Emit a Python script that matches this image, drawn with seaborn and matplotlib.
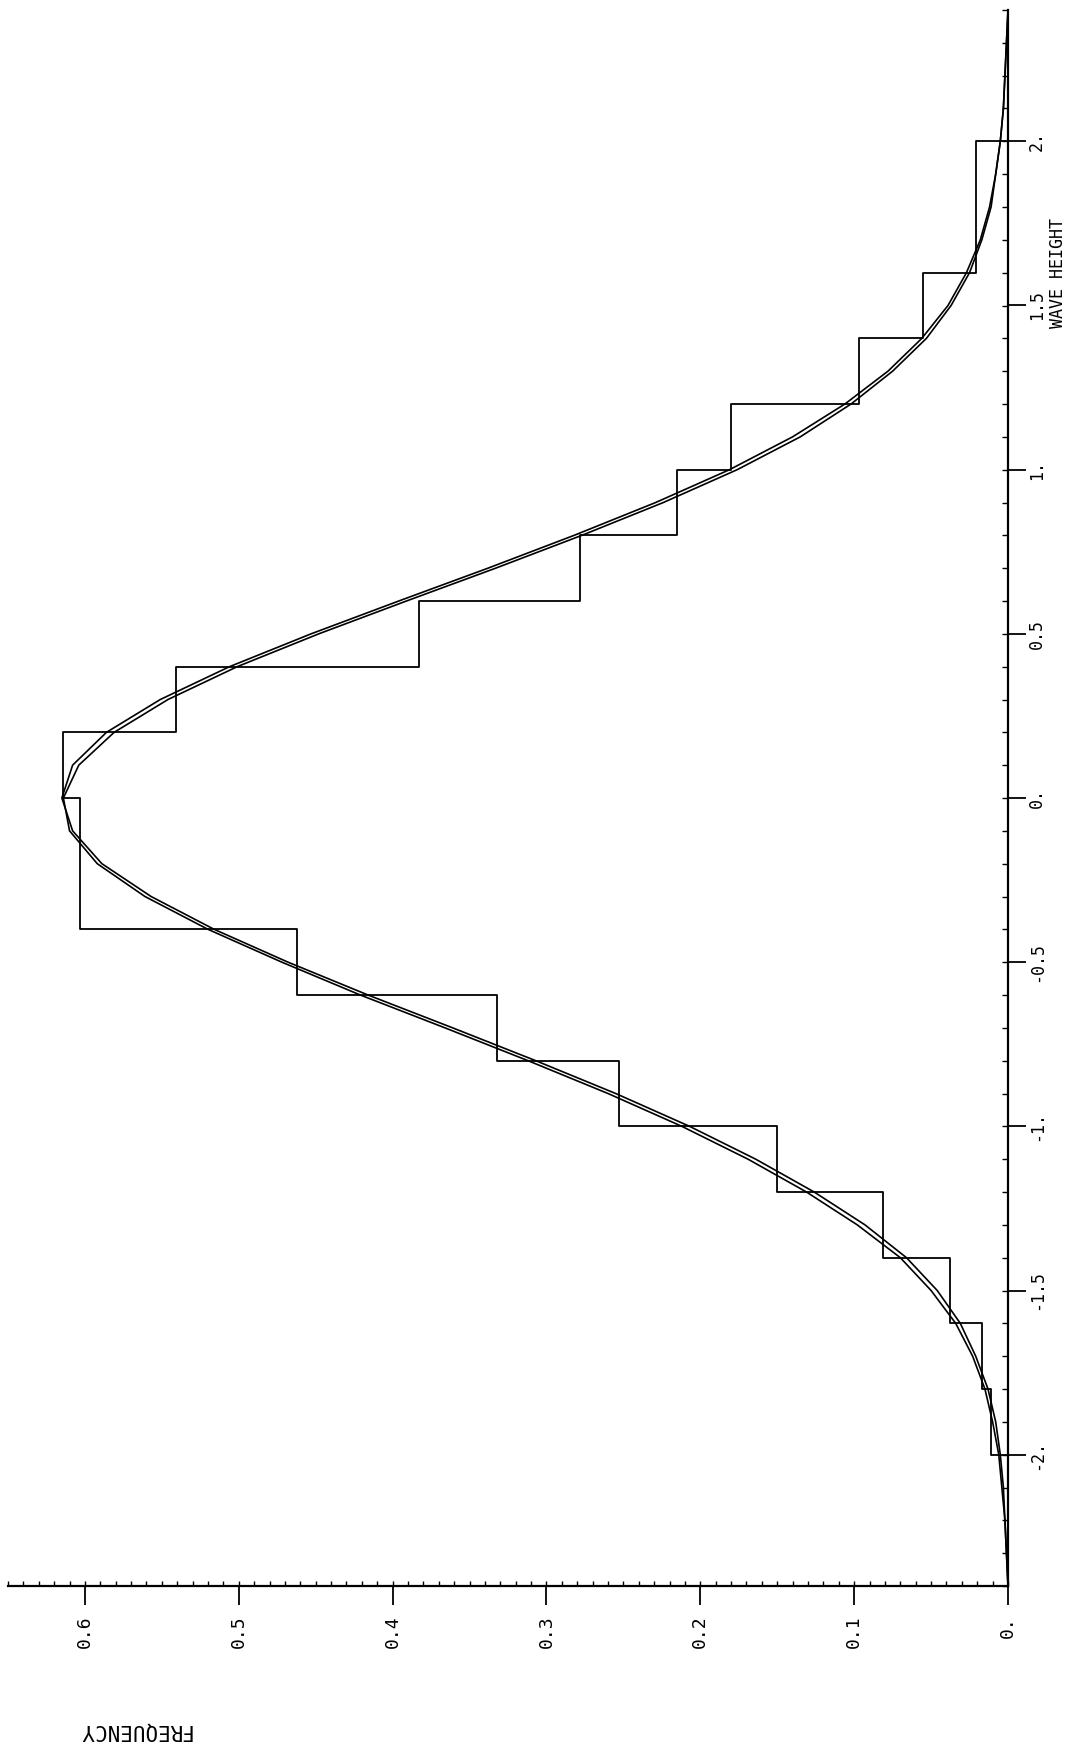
import numpy as np
import matplotlib
matplotlib.use("Agg")
import matplotlib.pyplot as plt
from matplotlib.ticker import MultipleLocator
import seaborn as sns

# ---------------- data ----------------
bin_edges = [-2.0, -1.8, -1.6, -1.4, -1.2, -1.0, -0.8, -0.6, -0.4, -0.2, 0.0,
             0.2, 0.4, 0.6, 0.8, 1.0, 1.2, 1.4, 1.6, 1.8, 2.0]
bin_freq = [0.011, 0.017, 0.038, 0.081, 0.150, 0.253, 0.332, 0.462, 0.603, 0.603,
            0.614, 0.541, 0.383, 0.278, 0.215, 0.180, 0.097, 0.055, 0.021, 0.021]

curve_h = [-2.4, -2.3, -2.2, -2.1, -2.0, -1.9, -1.8, -1.7, -1.6, -1.5, -1.4, -1.3,
           -1.2, -1.1, -1.0, -0.9, -0.8, -0.7, -0.6, -0.5, -0.4, -0.3, -0.2, -0.1,
           0.0, 0.1, 0.2, 0.3, 0.4, 0.5, 0.6, 0.7, 0.8, 0.9, 1.0, 1.1, 1.2, 1.3,
           1.4, 1.5, 1.6, 1.7, 1.8, 1.9, 2.0, 2.1, 2.2, 2.3, 2.4]
curve_a = [0.000, 0.001, 0.002, 0.003, 0.005, 0.008, 0.013, 0.021, 0.031, 0.046,
           0.066, 0.093, 0.126, 0.164, 0.207, 0.255, 0.307, 0.361, 0.416, 0.468,
           0.516, 0.557, 0.589, 0.608, 0.615, 0.608, 0.586, 0.551, 0.506, 0.453,
           0.396, 0.338, 0.282, 0.229, 0.181, 0.140, 0.106, 0.078, 0.056, 0.039,
           0.027, 0.018, 0.012, 0.008, 0.005, 0.003, 0.002, 0.001, 0.000]
curve_b = [0.000, 0.001, 0.002, 0.004, 0.006, 0.010, 0.015, 0.023, 0.034, 0.050,
           0.070, 0.098, 0.131, 0.169, 0.212, 0.260, 0.312, 0.366, 0.421, 0.472,
           0.520, 0.561, 0.592, 0.610, 0.614, 0.604, 0.581, 0.546, 0.501, 0.448,
           0.391, 0.333, 0.277, 0.224, 0.176, 0.135, 0.102, 0.075, 0.053, 0.037,
           0.025, 0.017, 0.011, 0.008, 0.005, 0.003, 0.002, 0.001, 0.000]

freq_ticks = [0.0, 0.1, 0.2, 0.3, 0.4, 0.5, 0.6]
freq_tick_labels = ["0.", "0.1", "0.2", "0.3", "0.4", "0.5", "0.6"]
height_ticks = [-2.0, -1.5, -1.0, -0.5, 0.0, 0.5, 1.0, 1.5, 2.0]
height_tick_labels = ["-2.", "-1.5", "-1.", "-0.5", "0.", "0.5", "1.", "1.5", "2."]

# ---------------- style ----------------
sns.set_theme(style="white")
plt.rcParams['font.family'] = ['DejaVu Sans Mono', 'DejaVu Sans']
plt.rcParams['axes.edgecolor'] = 'black'

W, H = 1066, 1746
fig = plt.figure(figsize=(W / 100, H / 100), dpi=100)
ax = fig.add_axes([8 / W, 160 / H, 1000 / W, 1576 / H])

centers = [(a + b) / 2 for a, b in zip(bin_edges[:-1], bin_edges[1:])]
sns.histplot(y=centers, weights=bin_freq, bins=bin_edges, element="step",
             fill=False, color="black", linewidth=1.3, ax=ax)
# close the outline to the zero-frequency axis at both ends
ax.hlines([bin_edges[0], bin_edges[-1]], 0, [bin_freq[0], bin_freq[-1]],
          color="black", linewidth=1.3)

sns.lineplot(x=curve_a, y=curve_h, orient="y", estimator=None, color="black",
             linewidth=1.2, ax=ax)
sns.lineplot(x=curve_b, y=curve_h, orient="y", estimator=None, color="black",
             linewidth=1.2, ax=ax)

ax.set_xlim(0.65, 0.0)
ax.set_ylim(-2.4, 2.4)
ax.set_xlabel("")
ax.set_ylabel("")

for s in ["top", "left"]:
    ax.spines[s].set_visible(False)
for s in ["bottom", "right"]:
    ax.spines[s].set_linewidth(1.6)
    ax.spines[s].set_color("black")

ax.set_xticks(freq_ticks)
ax.set_xticklabels(freq_tick_labels, rotation=90)
ax.xaxis.set_minor_locator(MultipleLocator(0.01))
ax.xaxis.remove_overlapping_locs = False

ax.yaxis.tick_right()
ax.set_yticks(height_ticks)
ax.set_yticklabels(height_tick_labels, rotation=90)
ax.yaxis.set_minor_locator(MultipleLocator(0.1))
ax.yaxis.remove_overlapping_locs = False
for lbl in ax.get_yticklabels():
    lbl.set_va("center")

ax.tick_params(axis="x", which="major", direction="out", length=13.5, width=1.3,
               pad=8, labelsize=13, bottom=True, top=False, colors="black")
ax.tick_params(axis="x", which="minor", direction="in", length=3.5, width=1.0,
               bottom=True, top=False, colors="black")
ax.tick_params(axis="y", which="major", direction="out", length=13, width=1.3,
               pad=1.5, labelsize=12, right=True, left=False, labelright=True,
               labelleft=False, colors="black")
ax.tick_params(axis="y", which="minor", direction="in", length=4, width=1.0,
               right=True, left=False, colors="black")

fig.text(1058 / W, 1 - 328 / H, "WAVE HEIGHT", rotation=90, ha="center",
         va="bottom", fontsize=12, color="black")
fig.text(134 / W, 1 - 1731 / H, "FREQUENCY", rotation=180, ha="center",
         va="center", fontsize=15, color="black")

fig.savefig("out.png", dpi=100, facecolor="white")
